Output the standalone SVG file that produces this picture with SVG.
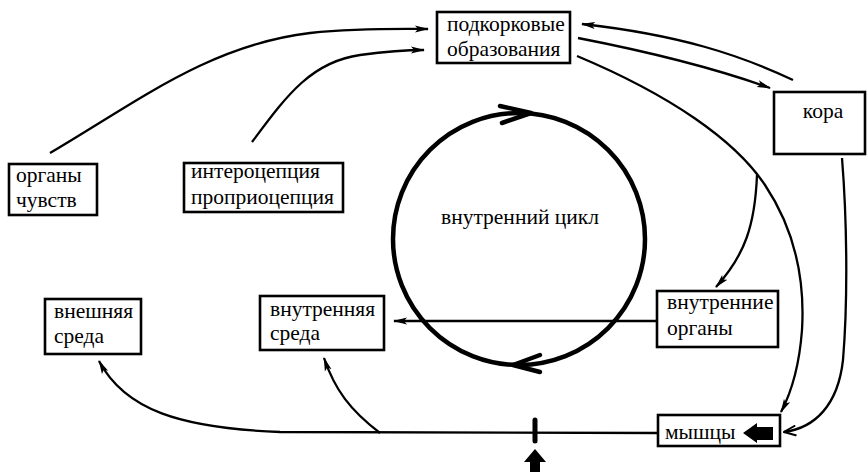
<svg xmlns="http://www.w3.org/2000/svg" width="867" height="472" viewBox="0 0 867 472">
<style>
.box{fill:#fff;stroke:#000;stroke-width:2.6}
.t{font-family:"Liberation Serif","Times New Roman","DejaVu Serif",serif;font-size:21.5px;fill:#000}
.c{fill:none;stroke:#000;stroke-width:2.3}
</style>
<defs>
<marker id="ah" viewBox="0 0 14 8" refX="13" refY="4" markerWidth="14" markerHeight="8" markerUnits="userSpaceOnUse" orient="auto">
<path d="M0,0.5 L14,4 L0,7.5 L3,4 z" fill="#000"/>
</marker>
<marker id="ao" viewBox="0 0 14 12" refX="13" refY="6" markerWidth="14" markerHeight="12" markerUnits="userSpaceOnUse" orient="auto">
<path d="M1,1 L13,6 L1,11" fill="none" stroke="#000" stroke-width="2"/>
</marker>
</defs>
<rect width="867" height="472" fill="#fff"/>
<g id="connectors">
<path class="c" d="M50,153 C140,100 210,45 310,33 C360,28 400,29 428,29" marker-end="url(#ah)"/>
<path class="c" d="M252,142 C285,98 310,62 360,55 C390,51 410,50 424,50" marker-end="url(#ah)"/>
<path class="c" d="M578,38 C650,52 720,70 770,88" marker-end="url(#ah)"/>
<path class="c" d="M793,80 C740,55 680,35 582,24" marker-end="url(#ah)"/>
<path class="c" d="M577,56 C670,95 735,140 765,185 C795,230 805,280 802,330 C799,370 790,395 781,412" marker-end="url(#ah)"/>
<path class="c" d="M757,175 C755,225 745,255 716,287" marker-end="url(#ah)"/>
<path class="c" d="M842,158 C847,220 848,300 843,360 C838,405 815,428 784,432" marker-end="url(#ao)"/>
<path class="c" d="M657,321 L394,321" marker-end="url(#ah)"/>
<path class="c" d="M658,433 L280,432 C180,428 125,410 99,361" marker-end="url(#ah)"/>
<path class="c" d="M380,433 C350,410 335,390 324,358" marker-end="url(#ah)"/>
<line x1="535" y1="420" x2="535" y2="441" stroke="#000" stroke-width="5" stroke-linecap="round"/>
<polygon points="535,449 546,462 540,462 540,472 530,472 530,462 524,462" fill="#000"/>
</g>
<g id="cycle">
<circle cx="519" cy="239" r="126" fill="none" stroke="#000" stroke-width="4.5"/>
<path d="M500,106 L531,113 L502,123" fill="none" stroke="#000" stroke-width="4.5" stroke-linecap="round" stroke-linejoin="round"/>
<path d="M540,355 L513,365 L540,372" fill="none" stroke="#000" stroke-width="4.5" stroke-linecap="round" stroke-linejoin="round"/>
<text class="t" x="520" y="224" text-anchor="middle">внутренний цикл</text>
</g>
<g id="subcortex">
<rect class="box" x="437" y="12" width="133" height="51"/>
<text class="t" x="447" y="31">подкорковые</text>
<text class="t" x="447" y="56">образования</text>
</g>
<g id="cortex">
<rect class="box" x="774" y="92" width="91" height="62"/>
<text class="t" x="823" y="118" text-anchor="middle">кора</text>
</g>
<g id="senses">
<rect class="box" x="9" y="164" width="88" height="51"/>
<text class="t" x="16" y="182">органы</text>
<text class="t" x="16" y="207">чувств</text>
</g>
<g id="intero">
<rect class="box" x="184" y="163" width="159" height="49"/>
<text class="t" x="191" y="178">интероцепция</text>
<text class="t" x="191" y="204">проприоцепция</text>
</g>
<g id="outer-env">
<rect class="box" x="45" y="299" width="96" height="55"/>
<text class="t" x="54" y="318">внешняя</text>
<text class="t" x="54" y="343">среда</text>
</g>
<g id="inner-env">
<rect class="box" x="260" y="296" width="124" height="54"/>
<text class="t" x="270" y="316">внутренняя</text>
<text class="t" x="270" y="340">среда</text>
</g>
<g id="organs">
<rect class="box" x="657" y="291" width="121" height="56"/>
<text class="t" x="667" y="309">внутренние</text>
<text class="t" x="667" y="335">органы</text>
</g>
<g id="muscles">
<rect class="box" x="658" y="415" width="122" height="31"/>
<text class="t" x="665" y="439">мышцы</text>
<polygon points="743,433 757,423 757,427 773,427 773,440 757,440 757,443" fill="#000"/>
</g>
</svg>
